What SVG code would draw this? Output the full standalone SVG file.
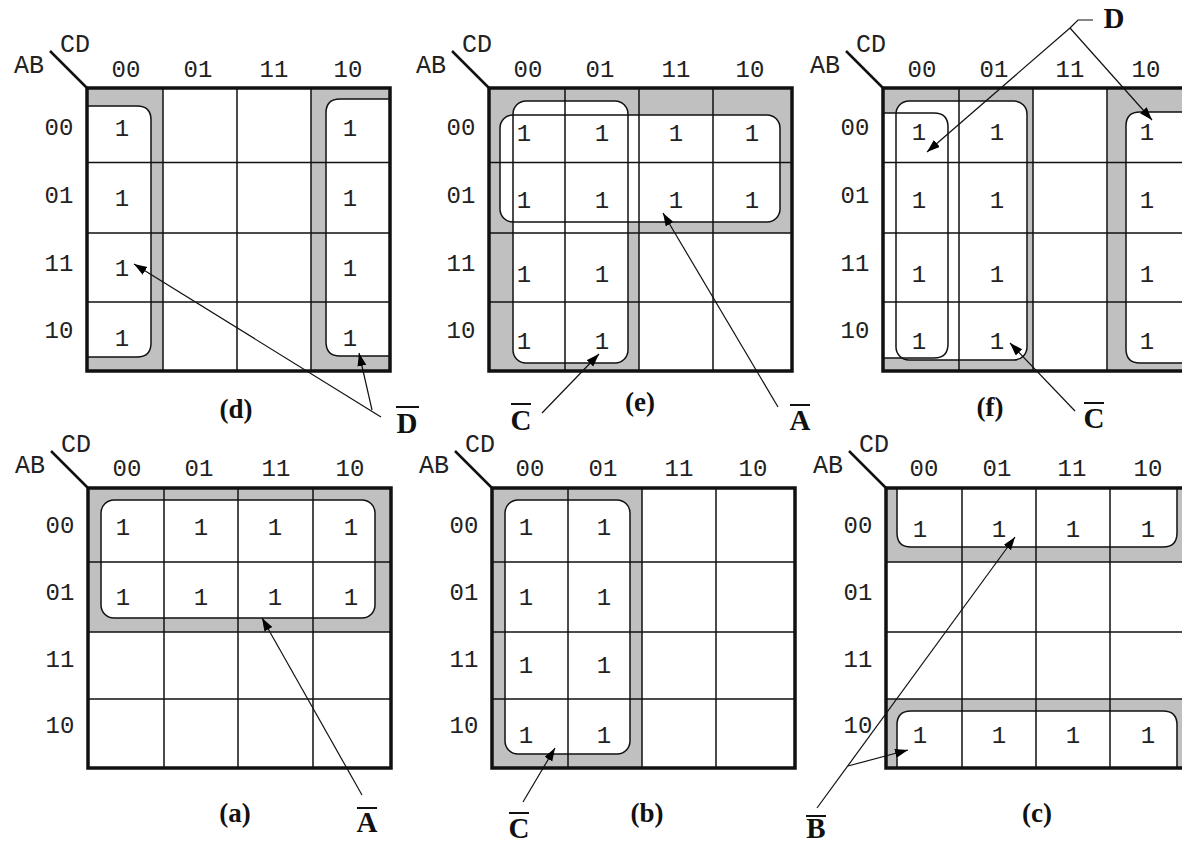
<svg xmlns="http://www.w3.org/2000/svg" width="1182" height="843" viewBox="0 0 1182 843">
<defs>
<marker id="ah" markerUnits="userSpaceOnUse" markerWidth="14" markerHeight="10" refX="13" refY="4.5" orient="auto">
<path d="M0,0 L13,4.5 L0,9 Z" fill="#000"/>
</marker>
</defs>
<style>
.g{fill:#c0c0c0;stroke:none}
.lf{fill:#fff;stroke:none}
.ls{fill:none;stroke:#111;stroke-width:1.5}
.grid{fill:none;stroke:#111;stroke-width:1.5}
.border{fill:none;stroke:#111;stroke-width:3.5}
.diag{stroke:#111;stroke-width:2.5}
.t{font-family:"Liberation Mono",monospace;font-size:24px;fill:#222;text-anchor:middle}
.h{font-family:"Liberation Mono",monospace;font-size:25px;fill:#222;text-anchor:middle}
.cap{font-family:"Liberation Serif",serif;font-weight:bold;font-size:27px;fill:#111;text-anchor:middle}
.var{font-family:"Liberation Serif",serif;font-weight:bold;font-size:29px;fill:#111;text-anchor:middle}
.arr{fill:none;stroke:#111;stroke-width:1.2;marker-end:url(#ah)}
.ln{fill:none;stroke:#111;stroke-width:1.2}
.ov{stroke:#111;stroke-width:2}
</style>
<rect width="1182" height="843" fill="#fff"/>

<!-- Map (d) -->
<g id="map-d" transform="translate(87,88)">
<rect class="g" x="0" y="0" width="76" height="283"/>
<rect class="g" x="224" y="0" width="79" height="283"/>
<path class="lf" d="M0,18 H50 Q64,18 64,32 V255 Q64,269 50,269 H0 Z"/>
<path class="lf" d="M303,11 H253 Q239,11 239,25 V254 Q239,268 253,268 H303 Z"/>
<path class="grid" d="M76,0V283M150,0V283M224,0V283M0,74.5H303M0,145H303M0,214H303"/>
<path class="ls" d="M0,18 H50 Q64,18 64,32 V255 Q64,269 50,269 H0"/>
<path class="ls" d="M303,11 H253 Q239,11 239,25 V254 Q239,268 253,268 H303"/>
<rect class="border" x="0" y="0" width="303" height="283"/>
<line class="diag" x1="-37" y1="-37" x2="0" y2="0"/>
<text class="h" x="-58" y="-15">AB</text>
<text class="h" x="-12" y="-36">CD</text>
<text class="t" x="39" y="-11">00</text><text class="t" x="111" y="-11">01</text><text class="t" x="187" y="-11">11</text><text class="t" x="261" y="-11">10</text>
<text class="t" x="-28" y="47">00</text><text class="t" x="-28" y="115">01</text><text class="t" x="-28" y="183">11</text><text class="t" x="-28" y="250">10</text>
<text class="t" x="35" y="48">1</text><text class="t" x="263" y="48">1</text>
<text class="t" x="35" y="118">1</text><text class="t" x="263" y="118">1</text>
<text class="t" x="35" y="188">1</text><text class="t" x="263" y="188">1</text>
<text class="t" x="35" y="258">1</text><text class="t" x="263" y="258">1</text>
<text class="cap" x="149" y="330">(d)</text>
</g>

<!-- Map (e) -->
<g id="map-e" transform="translate(489,88)">
<path class="g" d="M0,0 H303 V145 H150 V283 H0 Z"/>
<rect class="lf" x="11" y="27" width="280" height="107" rx="13"/>
<rect class="lf" x="24" y="13" width="115" height="262" rx="13"/>
<path class="grid" d="M76,0V283M150,0V283M224,0V283M0,74.5H303M0,145H303M0,214H303"/>
<rect class="ls" x="11" y="27" width="280" height="107" rx="13"/>
<rect class="ls" x="24" y="13" width="115" height="262" rx="13"/>
<rect class="border" x="0" y="0" width="303" height="283"/>
<line class="diag" x1="-37" y1="-37" x2="0" y2="0"/>
<text class="h" x="-58" y="-15">AB</text>
<text class="h" x="-12" y="-36">CD</text>
<text class="t" x="39" y="-11">00</text><text class="t" x="111" y="-11">01</text><text class="t" x="187" y="-11">11</text><text class="t" x="261" y="-11">10</text>
<text class="t" x="-28" y="47">00</text><text class="t" x="-28" y="115">01</text><text class="t" x="-28" y="183">11</text><text class="t" x="-28" y="250">10</text>
<text class="t" x="35" y="53">1</text><text class="t" x="113" y="53">1</text><text class="t" x="187" y="53">1</text><text class="t" x="263" y="53">1</text>
<text class="t" x="35" y="120">1</text><text class="t" x="113" y="120">1</text><text class="t" x="187" y="120">1</text><text class="t" x="263" y="120">1</text>
<text class="t" x="35" y="194">1</text><text class="t" x="113" y="194">1</text>
<text class="t" x="35" y="261">1</text><text class="t" x="113" y="261">1</text>
<text class="cap" x="151" y="323">(e)</text>
</g>

<!-- Map (f) -->
<g id="map-f" transform="translate(883,88)">
<rect class="g" x="0" y="0" width="150" height="283"/>
<rect class="g" x="224" y="0" width="90" height="283"/>
<rect class="lf" x="13" y="13" width="131" height="259" rx="13"/>
<path class="lf" d="M0,25 H51 Q65,25 65,39 V256 Q65,270 51,270 H0 Z"/>
<path class="lf" d="M312,24 H257 Q243,24 243,38 V261 Q243,275 257,275 H312 Z"/>
<path class="grid" d="M76,0V283M150,0V283M224,0V283M0,74.5H312M0,145H312M0,214H312"/>
<rect class="ls" x="13" y="13" width="131" height="259" rx="13"/>
<path class="ls" d="M0,25 H51 Q65,25 65,39 V256 Q65,270 51,270 H0"/>
<path class="ls" d="M312,24 H257 Q243,24 243,38 V261 Q243,275 257,275 H312"/>
<rect class="border" x="0" y="0" width="305" height="283"/>
<line class="diag" x1="-37" y1="-37" x2="0" y2="0"/>
<text class="h" x="-58" y="-15">AB</text>
<text class="h" x="-12" y="-36">CD</text>
<text class="t" x="39" y="-11">00</text><text class="t" x="111" y="-11">01</text><text class="t" x="187" y="-11">11</text><text class="t" x="263" y="-11">10</text>
<text class="t" x="-28" y="47">00</text><text class="t" x="-28" y="115">01</text><text class="t" x="-28" y="183">11</text><text class="t" x="-28" y="250">10</text>
<text class="t" x="36" y="52">1</text><text class="t" x="114" y="52">1</text><text class="t" x="264" y="52">1</text>
<text class="t" x="36" y="120">1</text><text class="t" x="114" y="120">1</text><text class="t" x="264" y="120">1</text>
<text class="t" x="36" y="194">1</text><text class="t" x="114" y="194">1</text><text class="t" x="264" y="194">1</text>
<text class="t" x="36" y="261">1</text><text class="t" x="114" y="261">1</text><text class="t" x="264" y="261">1</text>
<text class="cap" x="107" y="328">(f)</text>
</g>

<!-- Map (a) -->
<g id="map-a" transform="translate(88,488)">
<rect class="g" x="0" y="0" width="303" height="144"/>
<rect class="lf" x="13" y="12" width="274" height="118" rx="13"/>
<path class="grid" d="M76,0V280M150,0V280M225,0V280M0,74H303M0,144H303M0,211H303"/>
<rect class="ls" x="13" y="12" width="274" height="118" rx="13"/>
<rect class="border" x="0" y="0" width="303" height="280"/>
<line class="diag" x1="-37" y1="-37" x2="0" y2="0"/>
<text class="h" x="-58" y="-15">AB</text>
<text class="h" x="-12" y="-36">CD</text>
<text class="t" x="39" y="-12">00</text><text class="t" x="111" y="-12">01</text><text class="t" x="188" y="-12">11</text><text class="t" x="262" y="-12">10</text>
<text class="t" x="-28" y="45">00</text><text class="t" x="-28" y="112">01</text><text class="t" x="-28" y="179">11</text><text class="t" x="-28" y="245">10</text>
<text class="t" x="35" y="47">1</text><text class="t" x="113" y="47">1</text><text class="t" x="187" y="47">1</text><text class="t" x="263" y="47">1</text>
<text class="t" x="35" y="117">1</text><text class="t" x="113" y="117">1</text><text class="t" x="187" y="117">1</text><text class="t" x="263" y="117">1</text>
<text class="cap" x="147" y="334">(a)</text>
</g>

<!-- Map (b) -->
<g id="map-b" transform="translate(492,488)">
<rect class="g" x="0" y="0" width="150" height="280"/>
<rect class="lf" x="13" y="12" width="125" height="254" rx="13"/>
<path class="grid" d="M76,0V280M150,0V280M224,0V280M0,74H303M0,144H303M0,211H303"/>
<rect class="ls" x="13" y="12" width="125" height="254" rx="13"/>
<rect class="border" x="0" y="0" width="303" height="280"/>
<line class="diag" x1="-37" y1="-37" x2="0" y2="0"/>
<text class="h" x="-58" y="-15">AB</text>
<text class="h" x="-12" y="-36">CD</text>
<text class="t" x="38" y="-12">00</text><text class="t" x="111" y="-12">01</text><text class="t" x="187" y="-12">11</text><text class="t" x="261" y="-12">10</text>
<text class="t" x="-28" y="45">00</text><text class="t" x="-28" y="112">01</text><text class="t" x="-28" y="179">11</text><text class="t" x="-28" y="245">10</text>
<text class="t" x="34" y="47">1</text><text class="t" x="112" y="47">1</text>
<text class="t" x="34" y="117">1</text><text class="t" x="112" y="117">1</text>
<text class="t" x="34" y="185">1</text><text class="t" x="112" y="185">1</text>
<text class="t" x="34" y="255">1</text><text class="t" x="112" y="255">1</text>
<text class="cap" x="155" y="334">(b)</text>
</g>

<!-- Map (c) -->
<g id="map-c" transform="translate(886,488)">
<rect class="g" x="0" y="0" width="310" height="74"/>
<rect class="g" x="0" y="211" width="310" height="69"/>
<path class="lf" d="M11,0 V45 Q11,59 25,59 H277 Q291,59 291,45 V0 Z"/>
<path class="lf" d="M11,280 V237 Q11,223 25,223 H277 Q291,223 291,237 V280 Z"/>
<path class="grid" d="M76,0V280M150,0V280M224,0V280M0,74H310M0,144H310M0,211H310"/>
<path class="ls" d="M11,0 V45 Q11,59 25,59 H277 Q291,59 291,45 V0"/>
<path class="ls" d="M11,280 V237 Q11,223 25,223 H277 Q291,223 291,237 V280"/>
<rect class="border" x="0" y="0" width="305" height="280"/>
<line class="diag" x1="-37" y1="-37" x2="0" y2="0"/>
<text class="h" x="-58" y="-15">AB</text>
<text class="h" x="-12" y="-36">CD</text>
<text class="t" x="38" y="-12">00</text><text class="t" x="111" y="-12">01</text><text class="t" x="186" y="-12">11</text><text class="t" x="262" y="-12">10</text>
<text class="t" x="-28" y="45">00</text><text class="t" x="-28" y="112">01</text><text class="t" x="-28" y="179">11</text><text class="t" x="-28" y="245">10</text>
<text class="t" x="34" y="49">1</text><text class="t" x="113" y="49">1</text><text class="t" x="187" y="49">1</text><text class="t" x="262" y="49">1</text>
<text class="t" x="34" y="255">1</text><text class="t" x="113" y="255">1</text><text class="t" x="187" y="255">1</text><text class="t" x="262" y="255">1</text>
<text class="cap" x="151" y="334">(c)</text>
</g>

<!-- Connectors -->
<g id="connectors">
<line class="arr" x1="381" y1="417" x2="134" y2="264"/>
<line class="arr" x1="372" y1="410" x2="359" y2="353"/>
<line class="arr" x1="542" y1="413" x2="599" y2="354"/>
<line class="arr" x1="778" y1="407" x2="663" y2="213"/>
<polyline class="ln" points="1070,28 1078,20 1093,20"/>
<line class="arr" x1="1070" y1="28" x2="927" y2="152"/>
<line class="arr" x1="1070" y1="28" x2="1152" y2="120"/>
<line class="arr" x1="1075" y1="411" x2="1010" y2="343"/>
<line class="arr" x1="362" y1="795" x2="262" y2="618"/>
<line class="arr" x1="523" y1="802" x2="555" y2="748"/>
<line class="arr" x1="817" y1="808" x2="1015" y2="537"/>
<line class="arr" x1="848" y1="766" x2="908" y2="750"/>
</g>

<!-- Term labels -->
<g id="labels">
<text class="var" x="407" y="433">D</text><line class="ov" x1="396" y1="407" x2="419" y2="407"/>
<text class="var" x="521" y="430">C</text><line class="ov" x1="511" y1="404" x2="531" y2="404"/>
<text class="var" x="800" y="430">A</text><line class="ov" x1="790" y1="405" x2="810" y2="405"/>
<text class="var" x="1114" y="28">D</text>
<text class="var" x="1094" y="428">C</text><line class="ov" x1="1084" y1="403" x2="1104" y2="403"/>
<text class="var" x="367" y="832">A</text><line class="ov" x1="357" y1="808" x2="377" y2="808"/>
<text class="var" x="519" y="838">C</text><line class="ov" x1="509" y1="813" x2="529" y2="813"/>
<text class="var" x="816" y="838">B</text><line class="ov" x1="806" y1="816" x2="826" y2="816"/>
</g>
</svg>
